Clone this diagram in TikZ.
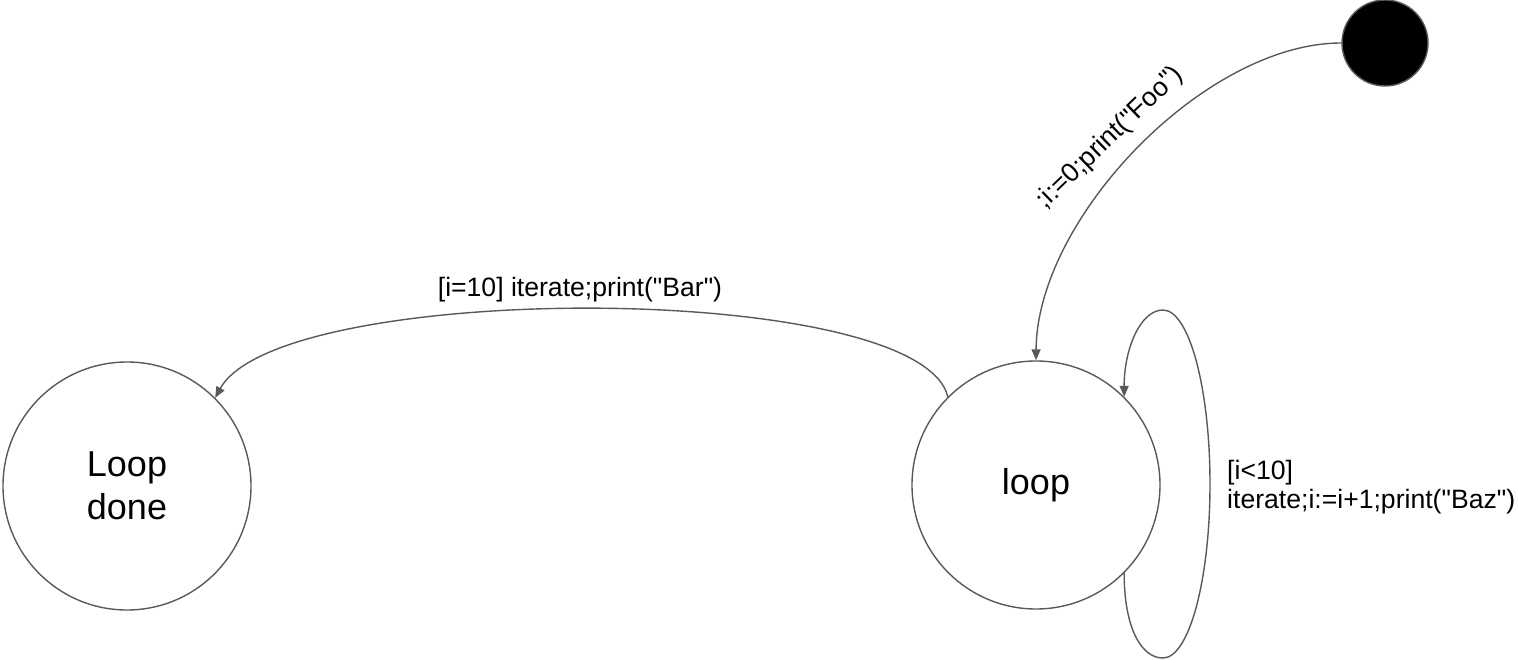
\documentclass[tikz,border=0pt]{standalone}
\usepackage{fontspec}
\setmainfont{Liberation Sans}[Ligatures=TeXOff]
\usetikzlibrary{arrows.meta}
\definecolor{edgegray}{HTML}{595959}
\begin{document}
\begin{tikzpicture}[x=1pt,y=-1pt,
  state/.style={circle,draw=edgegray,line width=1.4pt,minimum size=248pt,inner sep=0pt,
    font=\fontsize{36}{43}\selectfont,align=center},
  initstate/.style={circle,draw=edgegray,fill=black,line width=1.4pt,minimum size=86pt,inner sep=0pt},
  trans/.style={draw=edgegray,line width=1.4pt,-{Triangle[length=11pt,width=9pt]}},
  lbl/.style={font=\fontsize{26.6}{29}\selectfont,inner sep=0pt}]
\useasboundingbox (0,0) rectangle (1518,660);
\node[state] (done) at (127,486) {Loop\\done};
\node[state] (loop) at (1036,485) {loop};
\node[initstate] (init) at (1385,43) {};
% initial transition
\draw[trans] (init.180) .. controls (1205,43) and (1037,218) .. (loop.90);
\node[lbl,rotate=44] (lfoo) at (1110,138) {;i:=0;print("Foo")};
% loop -> done
\draw[trans] (loop.135) .. controls (920,280) and (280,280) .. (done.45);
\node[lbl] (lbar) at (580,290) {[i=10] iterate;print("Bar")};
% self loop
\draw[trans] (loop.-45) .. controls (1124,625) and (1140,658) .. (1163,658)
  .. controls (1189,658) and (1210,580) .. (1210,484)
  .. controls (1210,388) and (1189,310) .. (1163,310)
  .. controls (1140,310) and (1124,350) .. (loop.45);
\node[lbl,anchor=west,align=left] (lbaz) at (1227,487) {[i<10]\\iterate;i:=i+1;print("Baz")};
\end{tikzpicture}
\end{document}
